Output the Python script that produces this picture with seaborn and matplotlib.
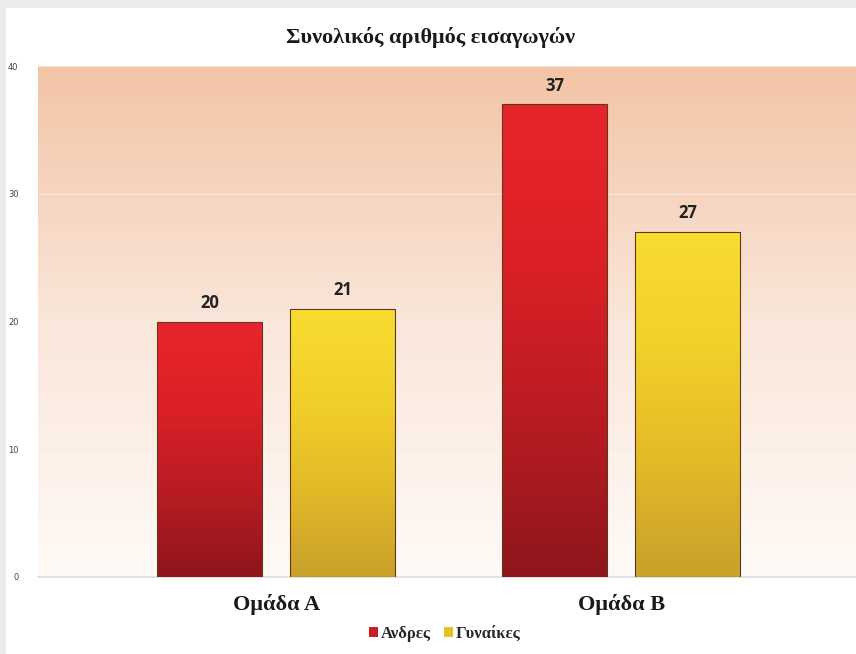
import numpy as np
import pandas as pd
import matplotlib.pyplot as plt
import matplotlib.patches as mpatches
from matplotlib.colors import LinearSegmentedColormap
import seaborn as sns

# ── Data ──
groups = ["Ομάδα Α", "Ομάδα Β"]
genders = ["Ανδρες", "Γυναίκες"]
men = [20, 37]
women = [21, 27]
y_ticks = [0, 10, 20, 30, 40]

df = pd.DataFrame({
    "group": groups * 2,
    "gender": [genders[0]] * 2 + [genders[1]] * 2,
    "value": men + women,
})

# ── Colours ──
red_stops = ["#8e161c", "#b81c22", "#dc2027", "#e8252c"]
yel_stops = ["#c9a02a", "#e2bb28", "#f2d02a", "#f8dc30"]
palette = {genders[0]: "#c91d22", genders[1]: "#e8c024"}

sns.set_theme(style="white")
plt.rcParams["font.family"] = ["DejaVu Sans"]

fig = plt.figure(figsize=(8.56, 6.54), dpi=100)
fig.patch.set_facecolor("#ebebeb")
fig.add_artist(mpatches.Rectangle((6 / 856, 0), 1, 1 - 8 / 654,
                                  transform=fig.transFigure,
                                  facecolor="white", edgecolor="none", zorder=-10))

ax = fig.add_axes([38 / 856, 1 - 577 / 654, 1 - 38 / 856, 511 / 654])

sns.barplot(data=df, x="group", y="value", hue="gender", order=groups,
            hue_order=genders, palette=palette, width=0.77, gap=0.21,
            ax=ax, legend=True, zorder=3)

XL = (-0.69, 1.68)

# background gradient
bg = LinearSegmentedColormap.from_list("bg", ["#fffaf6", "#fae6da", "#f3c4a6"])
ax.imshow(np.linspace(0, 1, 256).reshape(-1, 1), cmap=bg, aspect="auto",
          extent=[XL[0], XL[1], 0, 40], origin="lower", zorder=0)

# gradient fill on bars
cmaps = {genders[0]: LinearSegmentedColormap.from_list("r", red_stops),
         genders[1]: LinearSegmentedColormap.from_list("y", yel_stops)}
for cont, g in zip(ax.containers, genders):
    for p in cont.patches:
        x0, y0 = p.get_x(), p.get_y()
        w, h = p.get_width(), p.get_height()
        im = ax.imshow(np.linspace(0, 1, 256).reshape(-1, 1), cmap=cmaps[g],
                       aspect="auto", extent=[x0, x0 + w, y0, y0 + h],
                       origin="lower", zorder=4)
        im.set_clip_path(p)
        p.set_edgecolor("#5a3a1a")
        p.set_linewidth(0.8)
    ax.bar_label(cont, padding=7, fontsize=12, fontweight="bold",
                 color="#222222", family="Open Sans", zorder=6)

for p in ax.patches:
    p.set_zorder(5)
    p.set_facecolor("none")

ax.set_xlim(*XL)
ax.set_ylim(0, 40)

# grid and spines
ax.set_yticks(y_ticks)
ax.yaxis.grid(True, color="#f6ece6", linewidth=0.6, zorder=1)
for s in ["top", "right", "left"]:
    ax.spines[s].set_visible(False)
ax.spines["bottom"].set_color("#e2e2e2")
ax.spines["bottom"].set_linewidth(1.5)

ax.tick_params(axis="y", labelsize=6, colors="#444444", length=0, pad=14)
ax.tick_params(axis="x", length=0, pad=12)
for lbl in ax.get_xticklabels():
    lbl.set_fontfamily("Liberation Serif")
    lbl.set_fontweight("bold")
    lbl.set_fontsize(16)
    lbl.set_color("#1a1a1a")
ax.set_xlabel("")
ax.set_ylabel("")

fig.text(430 / 856, 1 - 38 / 654, "Συνολικός αριθμός εισαγωγών",
         ha="center", va="center", fontsize=16, fontweight="bold",
         family="Liberation Serif", color="#1a1a1a")

handles = [mpatches.Patch(facecolor=palette[g], edgecolor="none") for g in genders]
ax.legend(handles, genders, loc="center", bbox_to_anchor=(445 / 856, 1 - 634 / 654),
          bbox_transform=fig.transFigure, ncol=2, frameon=False,
          prop={"family": "Liberation Serif", "weight": "bold", "size": 12},
          handlelength=0.5, handleheight=0.5, handletextpad=0.2, columnspacing=0.8)

fig.savefig("out.png", dpi=100, facecolor=fig.get_facecolor())
